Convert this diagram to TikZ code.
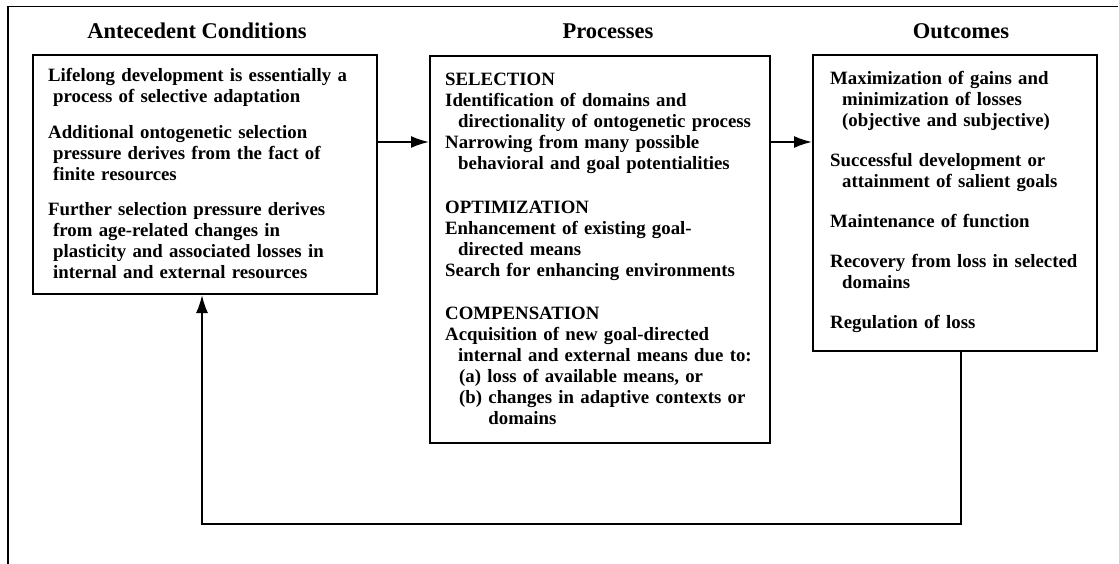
\documentclass[tikz,border=0pt]{standalone}
\usepackage{fontspec}
\setmainfont{Liberation Serif}
\usetikzlibrary{arrows.meta}
\begin{document}
\begin{tikzpicture}[x=1pt,y=-1pt,
  box/.style={draw, line width=2pt, inner sep=0pt},
  arr/.style={line width=1.8pt, -{Latex[length=18pt,width=12pt]}},
  head/.style={font=\fontsize{22.5}{24}\selectfont\bfseries, anchor=base, inner sep=0pt},
  body/.style={font=\fontsize{18.8}{21}\selectfont\bfseries, anchor=base west, inner sep=0pt, text width=400pt, align=left}]
\useasboundingbox (0,0) rectangle (1119,564);
% frame
\draw[line width=2.6pt] (8,564) -- (8,5.7);
\draw[line width=1.7pt] (6.7,6.5) -- (1118,6.5);
% headings
\node[head] (h1) at (197,39) {Antecedent Conditions};
\node[head] (h2) at (608,39) {Processes};
\node[head] (h3) at (961,39) {Outcomes};
% boxes
\node[box, minimum width=344pt, minimum height=239pt] (ante) at (205,174.5) {};
\node[box, minimum width=340pt, minimum height=387pt] (proc) at (600,249.5) {};
\node[box, minimum width=284pt, minimum height=296pt] (outc) at (955,203) {};
% texts
\node[body] (t1) at (48,82) {Lifelong development is essentially a\\
\hspace*{5pt}process of selective adaptation\\[14.5pt]
Additional ontogenetic selection\\
\hspace*{5pt}pressure derives from the fact of\\
\hspace*{5pt}finite resources\\[14.5pt]
Further selection pressure derives\\
\hspace*{5pt}from age-related changes in\\
\hspace*{5pt}plasticity and associated losses in\\
\hspace*{5pt}internal and external resources};
\node[body] (t2) at (445,86) {SELECTION\\
Identification of domains and\\
\hspace*{13pt}directionality of ontogenetic process\\
Narrowing from many possible\\
\hspace*{13pt}behavioral and goal potentialities\\[22.5pt]
OPTIMIZATION\\
Enhancement of existing goal-\\
\hspace*{13pt}directed means\\
Search for enhancing environments\\[22.5pt]
COMPENSATION\\
Acquisition of new goal-directed\\
\hspace*{13pt}internal and external means due to:\\
\hspace*{14pt}(a) loss of available means, or\\
\hspace*{14pt}(b) changes in adaptive contexts or\\
\hspace*{14pt}\phantom{(b)\ }domains};
\node[body] (t3) at (830,85) {Maximization of gains and\\
\hspace*{12pt}minimization of losses\\
\hspace*{12pt}(objective and subjective)\\[19pt]
Successful development or\\
\hspace*{12pt}attainment of salient goals\\[19pt]
Maintenance of function\\[19pt]
Recovery from loss in selected\\
\hspace*{12pt}domains\\[19pt]
Regulation of loss};
% connectors
\coordinate (r1) at (0,142);
\draw[arr] (ante.east |- r1) -- (proc.west |- r1);
\draw[arr] (proc.east |- r1) -- (outc.west |- r1);
\coordinate (fbR) at (961,524);
\coordinate (fbL) at (202,524);
\draw[arr] (outc.south -| fbR) -- (fbR) -- (fbL) -- (ante.south -| fbL);
\end{tikzpicture}
\end{document}
